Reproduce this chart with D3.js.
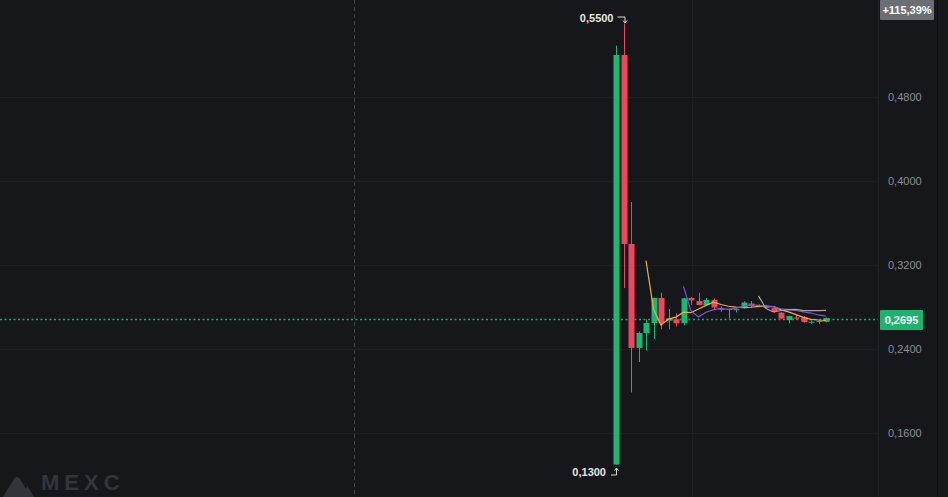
<!DOCTYPE html>
<html>
<head>
<meta charset="utf-8">
<script src="https://cdn.jsdelivr.net/npm/d3@7"></script>
<style>
  html, body { margin: 0; padding: 0; background: #16171b; overflow: hidden; }
  svg { display: block; }
</style>
</head>
<body>
<svg></svg>
<script>
// candle data
let opens  = [0.1300, 0.5200, 0.3400, 0.2410, 0.2552, 0.2648, 0.2886, 0.2671, 0.2683, 0.2648,
              0.2886, 0.2857, 0.2819, 0.2867, 0.2790, 0.2771, 0.2771, 0.2795, 0.2833, 0.2810,
              0.2810, 0.2789, 0.2746, 0.2676, 0.2700, 0.2702, 0.2650, 0.2667, 0.2660];
let highs  = [0.5290, 0.5500, 0.3800, 0.2567, 0.2683, 0.2890, 0.2936, 0.2781, 0.2741, 0.2886,
              0.2895, 0.2936, 0.2886, 0.2880, 0.2805, 0.2786, 0.2783, 0.2855, 0.2857, 0.2825,
              0.2815, 0.2795, 0.2755, 0.2718, 0.2720, 0.2712, 0.2672, 0.2680, 0.2700];
let lows   = [0.1300, 0.2980, 0.1985, 0.2276, 0.2384, 0.2495, 0.2588, 0.2586, 0.2613, 0.2626,
              0.2819, 0.2817, 0.2810, 0.2778, 0.2755, 0.2690, 0.2749, 0.2785, 0.2793, 0.2805,
              0.2785, 0.2745, 0.2685, 0.2645, 0.2680, 0.2652, 0.2640, 0.2636, 0.2655];
let closes = [0.5200, 0.3400, 0.2410, 0.2552, 0.2648, 0.2886, 0.2648, 0.2692, 0.2645, 0.2883,
              0.2863, 0.2819, 0.2867, 0.2795, 0.2774, 0.2781, 0.2779, 0.2843, 0.2810, 0.2819,
              0.2790, 0.2752, 0.2690, 0.2714, 0.2690, 0.2657, 0.2660, 0.2660, 0.2695];

let priceTicks = [0.16, 0.24, 0.32, 0.40, 0.48];
let lastPrice = 0.2695;
let highLabel = "0,5500";
let lowLabel = "0,1300";
let changeLabel = "+115,39%";

// moving averages shown on the chart (period, colour)
let maPeriods = [5, 10, 20];
let maColors = ["#e9b23c", "#7d4fe6", "#aaa596"];

let width = 948;
let height = 497;
let axisLeft = 878;

let green = "#19b873";
let red = "#f2445d";

let svg = d3.select("svg")
  .attr("width", width)
  .attr("height", height);

let candles = opens.map((o, i) => ({i: i, o: o, h: highs[i], l: lows[i], c: closes[i]}));

let xScale = d3.scaleLinear()
  .domain([0, candles.length - 1])
  .range([616, 826]);

let yScale = d3.scaleLinear()
  .domain([0.48, 0.16])
  .range([97, 433]);

let locale = d3.formatLocale({decimal: ",", thousands: ".", grouping: [3], currency: ["", ""]});
let fmt = locale.format(".4f");

// grid
let grid = svg.append("g");
grid.selectAll("line.h")
  .data(priceTicks)
  .enter()
  .append("line")
  .attr("x1", 0)
  .attr("x2", axisLeft)
  .attr("y1", d => Math.round(yScale(d)) + 0.5)
  .attr("y2", d => Math.round(yScale(d)) + 0.5)
  .attr("stroke", "#1d1f24");
grid.append("line")
  .attr("x1", 692.5).attr("x2", 692.5)
  .attr("y1", 0).attr("y2", height)
  .attr("stroke", "#1d1f24");
grid.append("line")
  .attr("x1", axisLeft + 0.5).attr("x2", axisLeft + 0.5)
  .attr("y1", 0).attr("y2", height)
  .attr("stroke", "#202227");
grid.append("line")
  .attr("x1", 937.5).attr("x2", 937.5)
  .attr("y1", 0).attr("y2", height)
  .attr("stroke", "#0f1013");

// crosshair (vertical, dashed)
svg.append("line")
  .attr("x1", 354.5).attr("x2", 354.5)
  .attr("y1", 0).attr("y2", height)
  .attr("stroke", "#45474d")
  .attr("stroke-dasharray", "4,3");

// last price line
svg.append("line")
  .attr("x1", 0).attr("x2", axisLeft)
  .attr("y1", Math.round(yScale(lastPrice)) + 1.5)
  .attr("y2", Math.round(yScale(lastPrice)) + 1.5)
  .attr("stroke", "#1fa872")
  .attr("stroke-width", 1.5)
  .attr("stroke-dasharray", "2,2.5");

// MEXC watermark
let logo = svg.append("g").attr("fill", "#33353b");
logo.append("path")
  .attr("d", "M3,497 L14,479 Q17,475 20,479 L28,492 L31,497 Z");
logo.append("path")
  .attr("d", "M21,497 L27.5,486 L34,497 Z");
logo.append("text")
  .attr("x", 41)
  .attr("y", 490)
  .attr("font-family", "Liberation Sans, Arial, sans-serif")
  .attr("font-weight", "bold")
  .attr("font-size", 22)
  .attr("letter-spacing", 5)
  .text("MEXC");

// candles
let bodyW = 6;
let cg = svg.append("g");
cg.selectAll("line.wick")
  .data(candles)
  .enter()
  .append("line")
  .attr("x1", d => Math.round(xScale(d.i)) + 0.5)
  .attr("x2", d => Math.round(xScale(d.i)) + 0.5)
  .attr("y1", d => yScale(d.h))
  .attr("y2", d => yScale(d.l))
  .attr("stroke", d => d.c >= d.o ? green : red)
  .attr("stroke-width", 1);

cg.selectAll("rect.body")
  .data(candles)
  .enter()
  .append("rect")
  .attr("x", d => Math.round(xScale(d.i)) - bodyW / 2 + 0.5)
  .attr("width", bodyW)
  .attr("y", d => yScale(Math.max(d.o, d.c)))
  .attr("height", d => Math.max(1, Math.abs(yScale(d.o) - yScale(d.c))))
  .attr("fill", d => d.c >= d.o ? green : red);

// moving averages from the closes
maPeriods.forEach((p, k) => {
  let pts = [];
  for (let i = p - 1; i < closes.length; i++) {
    pts.push({i: i, v: d3.mean(closes.slice(i - p + 1, i + 1))});
  }
  let line = d3.line()
    .x(d => xScale(d.i))
    .y(d => yScale(d.v));
  svg.append("path")
    .datum(pts)
    .attr("d", line)
    .attr("fill", "none")
    .attr("stroke", maColors[k])
    .attr("stroke-width", 1.2);
});

// high / low markers
let hi = candles[d3.maxIndex(highs)];
let lo = candles[d3.minIndex(lows)];
let hx = xScale(hi.i), hy = yScale(hi.h);
let lx = xScale(lo.i), ly = yScale(lo.l);

svg.append("text")
  .attr("x", hx - 10)
  .attr("y", hy - 2)
  .attr("text-anchor", "end")
  .attr("font-family", "Liberation Sans, Arial, sans-serif")
  .attr("font-weight", "bold")
  .attr("font-size", 11)
  .attr("fill", "#e6e6e6")
  .text(highLabel);
svg.append("path")
  .attr("d", `M${hx - 6},${hy - 6.5} H${hx + 1.5} V${hy - 1} M${hx - 0.5},${hy - 3} L${hx + 1.5},${hy - 0.5} L${hx + 3.5},${hy - 3}`)
  .attr("fill", "none")
  .attr("stroke", "#d8d8d8")
  .attr("stroke-width", 1);

svg.append("text")
  .attr("x", lx - 10)
  .attr("y", ly + 11)
  .attr("text-anchor", "end")
  .attr("font-family", "Liberation Sans, Arial, sans-serif")
  .attr("font-weight", "bold")
  .attr("font-size", 11)
  .attr("fill", "#e6e6e6")
  .text(lowLabel);
svg.append("path")
  .attr("d", `M${lx - 5},${ly + 10.5} H${lx + 0.5} V${ly + 4} M${lx - 1.5},${ly + 6} L${lx + 0.5},${ly + 3.5} L${lx + 2.5},${ly + 6}`)
  .attr("fill", "none")
  .attr("stroke", "#d8d8d8")
  .attr("stroke-width", 1);

// price axis
let yAxis = d3.axisRight(yScale)
  .tickValues(priceTicks)
  .tickSize(0)
  .tickPadding(10)
  .tickFormat(d => fmt(d));

let ax = svg.append("g")
  .attr("transform", "translate(" + axisLeft + ", 0)")
  .call(yAxis);
ax.select(".domain").remove();
ax.selectAll("text")
  .attr("font-family", "Liberation Sans, Arial, sans-serif")
  .attr("font-size", 11)
  .attr("fill", "#8b8e95");

// last price tag
let ly2 = yScale(lastPrice) + 2;
svg.append("rect")
  .attr("x", axisLeft + 2)
  .attr("y", ly2 - 10)
  .attr("width", 43)
  .attr("height", 20)
  .attr("rx", 1)
  .attr("fill", "#1cb36f");
svg.append("text")
  .attr("x", axisLeft + 23.5)
  .attr("y", ly2 + 4)
  .attr("text-anchor", "middle")
  .attr("font-family", "Liberation Sans, Arial, sans-serif")
  .attr("font-weight", "bold")
  .attr("font-size", 11)
  .attr("fill", "#ffffff")
  .text(fmt(lastPrice));

// change tag
svg.append("rect")
  .attr("x", axisLeft + 2)
  .attr("y", 0)
  .attr("width", 54)
  .attr("height", 20)
  .attr("rx", 1)
  .attr("fill", "#6b6e75");
svg.append("text")
  .attr("x", axisLeft + 29)
  .attr("y", 14)
  .attr("text-anchor", "middle")
  .attr("font-family", "Liberation Sans, Arial, sans-serif")
  .attr("font-weight", "bold")
  .attr("font-size", 11)
  .attr("fill", "#ffffff")
  .text(changeLabel);
</script>
</body>
</html>
